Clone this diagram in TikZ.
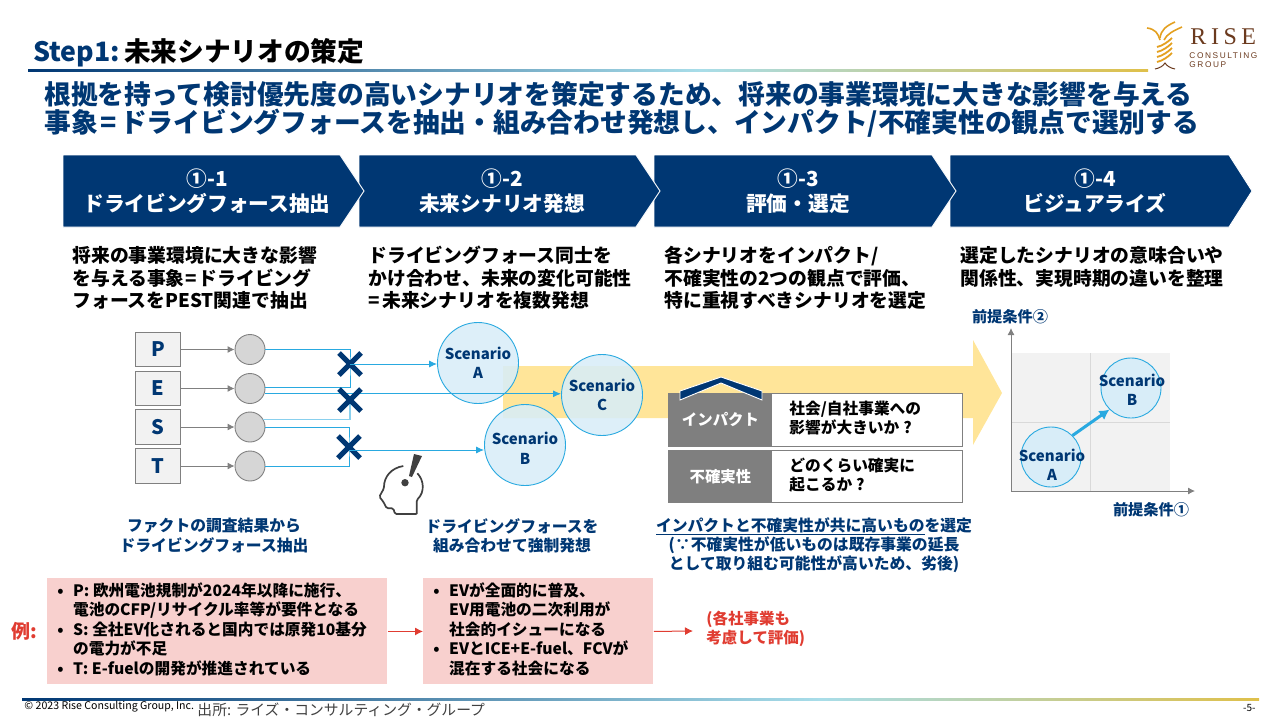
\documentclass[tikz,border=0pt]{standalone}
\usepackage{fontspec}
\setmainfont{Noto Sans CJK JP}
\newfontfamily\logoserif[LetterSpace=19]{Liberation Serif}
\newfontfamily\logosans[LetterSpace=19]{Liberation Sans}
\usetikzlibrary{shapes.misc,arrows.meta}
\definecolor{navy}{HTML}{003773}
\definecolor{skyline}{HTML}{29A9E0}
\definecolor{skyfill}{HTML}{D8EDF8}
\definecolor{bandyellow}{HTML}{FFE599}
\definecolor{pinkbox}{HTML}{F8D0CE}
\definecolor{redtext}{HTML}{E03C31}
\definecolor{greybox}{HTML}{7F7F7F}
\definecolor{headgrey}{HTML}{404040}
\definecolor{logogold}{HTML}{E3A020}
\definecolor{logobrown}{HTML}{6B3A1E}
\definecolor{rulemid}{HTML}{A8DDE9}
\definecolor{ruleend}{HTML}{DFC04A}
\tikzset{
  stepfill/.style={fill=navy, draw=white},
  steptxt/.style={text=white, font=\bfseries\fontsize{20.7}{25}\selectfont, align=center, inner sep=0pt},
  bodytxt/.style={anchor=north west, align=left, font=\bfseries\fontsize{18.8}{22.5}\selectfont, inner sep=0pt},
  bluenote/.style={align=center, text=navy, font=\bfseries\fontsize{15.8}{19.3}\selectfont, inner sep=0pt},
  pestbox/.style={draw=gray, fill=black!5, text=navy, font=\bfseries\fontsize{20}{22}\selectfont, minimum width=45, minimum height=34.5, inner sep=0pt},
  dotnode/.style={circle, draw=gray, fill=black!16, minimum size=30, inner sep=0pt},
  scenario/.style={circle, draw=skyline, fill=skyfill, fill opacity=.88, text opacity=1, text=navy, align=center, font=\bfseries\fontsize{15}{19.5}\selectfont, inner sep=0pt},
  smallscn/.style={circle, draw=skyline, fill=skyfill, minimum size=60, inner sep=0pt},
  scntxt/.style={text=navy, align=center, font=\bfseries\fontsize{15}{19.5}\selectfont, inner sep=0pt},
  crossmark/.style={cross out, draw=navy, line width=5, minimum size=17, inner sep=0pt},
  greyarrow/.style={draw=gray, -{Latex[length=7,width=7]}},
  bluearrow/.style={draw=skyline, -{Latex[length=8,width=7]}},
  bluewire/.style={draw=skyline},
  palewire/.style={draw=skyline!55, line width=1.3},
  redarrow/.style={draw=redtext, line width=1, -{Latex[length=8,width=8]}},
  tagbox/.style={anchor=north west, fill=greybox, text=white, font=\bfseries\fontsize{15.4}{20}\selectfont, minimum width=104, minimum height=53, inner sep=0pt},
  askbox/.style={anchor=north west, draw=gray, fill=white, minimum width=294, minimum height=53, inner sep=0pt},
  asktxt/.style={anchor=west, align=left, font=\bfseries\fontsize{15.7}{19}\selectfont, inner sep=0pt},
  pinkpanel/.style={fill=pinkbox, anchor=north west, inner sep=0pt},
  pinktxt/.style={anchor=north west, align=left, font=\bfseries\fontsize{15.7}{19.5}\selectfont, inner sep=0pt},
  axislabel/.style={text=navy, font=\bfseries\fontsize{15.2}{16}\selectfont, inner sep=0pt},
}
\begin{document}
\begin{tikzpicture}[x=1pt, y=-1pt, line width=.9]
  \newcommand\CT{155}
  \newcommand\CM{191}
  \newcommand\CB{227}
  \useasboundingbox (0,0) rectangle (1280,720);
  % header
  \node[anchor=base west, inner sep=0pt, font=\bfseries\fontsize{26.7}{30}\selectfont] (Title) at (33,61) {\textcolor{navy}{Step1:}\hspace{.15em}未来シナリオの策定};
  \shade[left color=navy, right color=rulemid] (28,69) rectangle (700,71);
  \shade[left color=rulemid, right color=ruleend] (700,69) rectangle (1148,71);
  \node[anchor=north west, inner sep=0pt, text=navy, font=\bfseries\fontsize{26.75}{27.5}\selectfont, align=left] (Lead) at (44,81) {根拠を持って検討優先度の高いシナリオを策定するため、将来の事業環境に大きな影響を与える\\事象\kern3pt=\kern3pt ドライビングフォースを抽出・組み合わせ発想し、インパクト/不確実性の観点で選別する};
  % logo
  \node[anchor=west, inner sep=0pt, text=logobrown, font=\logoserif\fontsize{24}{24}\selectfont] (LogoA) at (1190,37) {RISE};
  \node[anchor=north west, inner sep=0pt, text=logobrown, align=left, font=\logosans\fontsize{8.3}{9.5}\selectfont] (LogoB) at (1189,52) {CONSULTING\\GROUP};
  \draw[logogold, line width=1.6] (1147,28) .. controls (1155,29) and (1158,33) .. (1160,40);
  \draw[logogold, line width=1.6] (1160,38) .. controls (1161,30) and (1166,26) .. (1175,22);
  \draw[logogold, line width=1.6] (1164,40) .. controls (1167,34) and (1173,31) .. (1182,27);
  \draw[logogold, line width=1.8] (1157,47) .. controls (1162,46) and (1168,42) .. (1172,38);
  \draw[logogold, line width=1.8] (1157,52) .. controls (1162,51) and (1168,47) .. (1172,43);
  \draw[logogold, line width=1.8] (1157,57) .. controls (1162,56) and (1168,52) .. (1172,48);
  \draw[logogold, line width=1.8] (1157,62) .. controls (1162,61) and (1168,57) .. (1172,53);
  \draw[logobrown, line width=1] (1155,69) .. controls (1160,68) and (1163,66) .. (1165,63) .. controls (1167,66) and (1170,68) .. (1175,69);
  % chevrons
  \fill[stepfill] (950,\CT) -- (1229,\CT) -- (1252,\CM) -- (1229,\CB) -- (950,\CB) -- cycle;
  \fill[stepfill] (654,\CT) -- (932,\CT) -- (956,\CM) -- (932,\CB) -- (654,\CB) -- cycle;
  \fill[stepfill] (359,\CT) -- (636,\CT) -- (660,\CM) -- (636,\CB) -- (359,\CB) -- cycle;
  \fill[stepfill] (63,\CT) -- (340,\CT) -- (364,\CM) -- (340,\CB) -- (63,\CB) -- cycle;
  \node[steptxt] (S1) at (207,\CM) {①-1\\ドライビングフォース抽出};
  \node[steptxt] (S2) at (502,\CM) {①-2\\未来シナリオ発想};
  \node[steptxt] (S3) at (798,\CM) {①-3\\評価・選定};
  \node[steptxt] (S4) at (1095,\CM) {①-4\\ビジュアライズ};
  % step texts
  \node[bodytxt] (T1) at (72,246) {将来の事業環境に大きな影響\\を与える事象\kern1pt=\kern1.5pt ドライビング\\フォースをPEST関連で抽出};
  \node[bodytxt] (T2) at (368,246) {ドライビングフォース同士を\\かけ合わせ、未来の変化可能性\\=\kern2.5pt 未来シナリオを複数発想};
  \node[bodytxt] (T3) at (664,246) {各シナリオをインパクト/\\不確実性の2つの観点で評価、\\特に重視すべきシナリオを選定};
  \node[bodytxt] (T4) at (960,246) {選定したシナリオの意味合いや\\関係性、実現時期の違いを整理};
  % band
  \fill[bandyellow] (503,366) -- (973,366) -- (973,340) -- (1002,393) -- (973,445) -- (973,418) -- (503,418) -- cycle;
  % PEST
  \node[pestbox] (P) at (158,349.5) {P};
  \node[pestbox] (E) at (158,388.5) {E};
  \node[pestbox] (S) at (158,427) {S};
  \node[pestbox] (T) at (158,466) {T};
  \node[dotnode] (DP) at (250,349.5) {};
  \node[dotnode] (DE) at (250,388.5) {};
  \node[dotnode] (DS) at (250,427) {};
  \node[dotnode] (DT) at (250,466) {};
  \draw[greyarrow] (P) -- (DP);
  \draw[greyarrow] (E) -- (DE);
  \draw[greyarrow] (S) -- (DS);
  \draw[greyarrow] (T) -- (DT);
  % scenarios
  \node[scenario, minimum size=81] (SA) at (478,363) {Scenario\\A};
  \node[scenario, minimum size=81] (SC) at (602,395) {Scenario\\C};
  \node[scenario, minimum size=81] (SB) at (525,445) {};
  \node[scntxt] (SBT) at (525,448.5) {Scenario\\B};
  % wires and crossings
  \coordinate (XA) at (350,364);
  \coordinate (XB) at (350,400);
  \coordinate (XC) at (349,447);
  \coordinate (XCout) at (349,450);
  \draw[bluewire] (DP.east) -| (XA) |- (DE.5);
  \draw[palewire] (DS.30) -| (XB);
  \draw[bluewire] (DS.east) -| (XC) |- (DT.east);
  \draw[bluearrow] (DE.-20) -- (SC.west |- DE.-20);
  \node[crossmark] (X1) at (XA) {};
  \node[crossmark] (X2) at (XB) {};
  \node[crossmark] (X3) at (XC) {};
  \draw[bluearrow] (X1.center) -- (SA.west |- X1.center);
  \draw[bluearrow] (XCout) -- (SB.west |- XCout);
  % head
  \draw[headgrey, line width=1.7, rounded corners=1.5] (416.7,514) -- (395,514) -- (393.3,508.3) -- (386.7,508.3) -- (383.3,501.7) -- (379.3,496.7) -- (384,488.3) .. controls (384,477) and (391,468) .. (403.3,466);
  \draw[headgrey, line width=1.7, rounded corners=1.5] (417.3,473.3) .. controls (424,480) and (425,492) .. (416.7,500) -- (416.7,514);
  \fill[headgrey] (414,454) -- (422,456) -- (412,477) -- (409,476) -- cycle;
  \fill[headgrey] (405,482.7) circle (3.7);
  % notes
  \node[bluenote] (N1) at (214,535.5) {ファクトの調査結果から\\ドライビングフォース抽出};
  \node[bluenote] (N2) at (512,535.5) {ドライビングフォースを\\組み合わせて強制発想};
  \node[bluenote] (N3) at (814,545) {\underline{インパクトと不確実性が共に高いもの}を選定\\(∵不確実性が低いものは既存事業の延長\\として取り組む可能性が高いため、劣後)};
  % ask boxes
  \node[askbox] (A1) at (668,393) {};
  \node[askbox, minimum height=52] (A2) at (668,450) {};
  \node[tagbox] (G1) at (668,393) {インパクト};
  \node[tagbox, minimum height=52] (G2) at (668,450) {不確実性};
  \node[asktxt] (Q1) at (789,418.5) {社会/自社事業への\\影響が大きいか\kern4pt?};
  \node[asktxt] (Q2) at (789,475.5) {どのくらい確実に\\起こるか\kern4pt?};
  \fill[navy, draw=white] (680,400) -- (680,391) -- (721,377) -- (762,391) -- (762,400) -- (721,383) -- cycle;
  % matrix
  \fill[black!5] (1011,353) rectangle (1170,491);
  \draw[black!15] (1090,353) -- (1090,491) (1011,422) -- (1170,422);
  \coordinate (O) at (1011,491);
  \coordinate (YEnd) at (1011,328);
  \coordinate (XEnd) at (1195,491);
  \draw[greyarrow] (O) -- (YEnd);
  \draw[greyarrow] (O) -- (XEnd);
  \node[axislabel] (LY) at (1010,317) {前提条件②};
  \node[axislabel] (LX) at (1151,510) {前提条件①};
  \node[smallscn] (MA) at (1051,457) {};
  \node[smallscn] (MB) at (1131,388) {};
  \node[scntxt] (MAT) at (1052,465) {Scenario\\A};
  \node[scntxt] (MBT) at (1132,390) {Scenario\\B};
  \draw[skyline, line width=3, -{Latex[length=10,width=11]}] (MA.45) -- (MB.225);
  % examples
  \node[anchor=center, text=redtext, inner sep=0pt, font=\bfseries\fontsize{19}{22}\selectfont] (Rei) at (24,631) {例:};
  \node[pinkpanel, minimum width=340, minimum height=106] (PA) at (47,578) {};
  \node[pinkpanel, minimum width=230, minimum height=106] (PB) at (423,578) {};
  \node[pinktxt] (PAT) at (57,582) {\textbullet\hspace{.6em}P: 欧州電池規制が2024年以降に施行、\\\hspace{1em}電池のCFP/リサイクル率等が要件となる\\\textbullet\hspace{.6em}S: 全社EV化されると国内では原発10基分\\\hspace{1em}の電力が不足\\\textbullet\hspace{.6em}T: E-fuelの開発が推進されている};
  \node[pinktxt] (PBT) at (433,582) {\textbullet\hspace{.6em}EVが全面的に普及、\\\hspace{1em}EV用電池の二次利用が\\\hspace{1em}社会的イシューになる\\\textbullet\hspace{.6em}EVとICE+E-fuel、FCVが\\\hspace{1em}混在する社会になる};
  \node[anchor=west, align=left, text=redtext, inner sep=0pt, font=\bfseries\fontsize{15.5}{19}\selectfont] (Eval) at (706,629) {(各社事業も\\考慮して評価)};
  \coordinate (EvalIn) at (693,631);
  \draw[redarrow] (PA.east) -- (PB.west);
  \draw[redarrow] (PB.east) -- (EvalIn);
  % footer
  \shade[left color=navy, right color=rulemid] (22,698) rectangle (820,700);
  \shade[left color=rulemid, right color=ruleend] (820,698) rectangle (1259,700);
  \node[anchor=west, inner sep=0pt, font=\fontsize{10.6}{11}\selectfont] (Copy) at (24,707) {© 2023 Rise Consulting Group, Inc.};
  \node[anchor=west, inner sep=0pt, text=black!75, font=\fontsize{14.8}{16}\selectfont] (Src) at (197,710) {出所: ライズ・コンサルティング・グループ};
  \node[anchor=east, inner sep=0pt, font=\fontsize{10}{10}\selectfont] (Page) at (1256,708) {-5-};
\end{tikzpicture}
\end{document}
